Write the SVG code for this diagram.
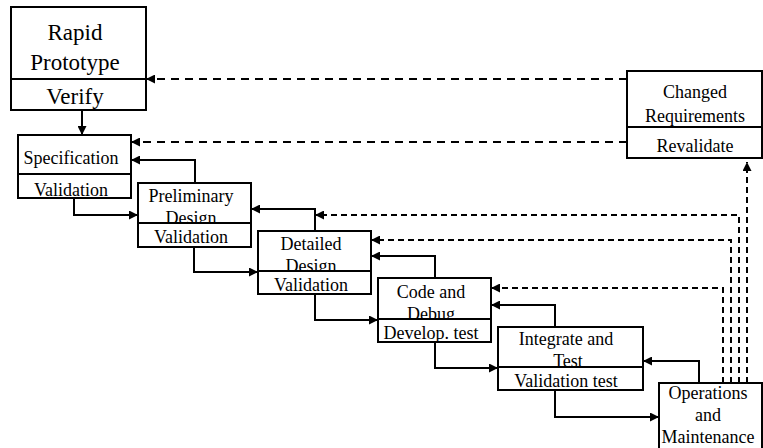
<svg xmlns="http://www.w3.org/2000/svg" width="763" height="448" viewBox="0 0 763 448">
<defs>
<marker id="ah" viewBox="0 0 10 10" refX="10" refY="5" markerWidth="9" markerHeight="9" markerUnits="userSpaceOnUse" orient="auto">
<path d="M0,0 L10,5 L0,10 z" fill="#000"/>
</marker>
</defs>
<style>
.box{fill:#fff;stroke:#000;stroke-width:2}
.t{font-family:'Liberation Serif','Times New Roman',serif;font-size:18px;fill:#000;text-anchor:middle}
.big{font-size:23px}
.c{fill:none;stroke:#000;stroke-width:2;marker-end:url(#ah)}
.dh{stroke-dasharray:8 6}
.dv{stroke-dasharray:6 4}
</style>
<rect width="763" height="448" fill="#fff"/>
<g id="connectors">
<path class="c" d="M82,110 V135"/>
<path class="c" d="M195,183 V160 H131"/>
<path class="c" d="M74,198 V215 H138"/>
<path class="c" d="M315,231 V209 H251"/>
<path class="c" d="M194,247 V272 H258"/>
<path class="c" d="M435,278 V256 H371"/>
<path class="c" d="M315,294 V320 H378"/>
<path class="c" d="M555,327 V305 H491"/>
<path class="c" d="M435,342 V368 H498"/>
<path class="c" d="M699,383 V361 H643"/>
<path class="c" d="M555,390 V417 H659"/>
<path class="c dh" d="M627,79 H146"/>
<path class="c dh" d="M627,142 H131"/>
<path class="c dv" d="M747,383 V162"/>
<path class="c dv" d="M739,383 V215 H315"/>
<path class="c dv" d="M731,383 V240 H371"/>
<path class="c dv" d="M723,383 V288 H491"/>
</g>
<g id="rapid-prototype">
<rect class="box" x="11" y="7" width="135" height="72"/>
<text class="t big" x="75" y="40">Rapid</text>
<text class="t big" x="75" y="70">Prototype</text>
<rect class="box" x="11" y="79" width="135" height="31"/>
<text class="t big" x="75" y="104">Verify</text>
</g>
<g id="specification">
<rect class="box" x="18" y="135" width="113" height="39"/>
<text class="t" x="71" y="164">Specification</text>
<rect class="box" x="18" y="174" width="113" height="24"/>
<text class="t" x="71" y="196">Validation</text>
</g>
<g id="preliminary-design">
<rect class="box" x="138" y="183" width="113" height="40"/>
<text class="t" x="191" y="202">Preliminary</text>
<text class="t" x="191" y="224">Design</text>
<rect class="box" x="138" y="223" width="113" height="24"/>
<text class="t" x="191" y="243">Validation</text>
</g>
<g id="detailed-design">
<rect class="box" x="258" y="231" width="113" height="40"/>
<text class="t" x="311" y="250">Detailed</text>
<text class="t" x="311" y="272">Design</text>
<rect class="box" x="258" y="271" width="113" height="23"/>
<text class="t" x="311" y="291">Validation</text>
</g>
<g id="code-and-debug">
<rect class="box" x="378" y="278" width="113" height="41"/>
<text class="t" x="431" y="298">Code and</text>
<text class="t" x="431" y="320">Debug</text>
<rect class="box" x="378" y="319" width="113" height="23"/>
<text class="t" x="431" y="339">Develop. test</text>
</g>
<g id="integrate-and-test">
<rect class="box" x="498" y="327" width="145" height="40"/>
<text class="t" x="566" y="345">Integrate and</text>
<text class="t" x="568" y="367">Test</text>
<rect class="box" x="498" y="367" width="145" height="23"/>
<text class="t" x="566" y="387">Validation test</text>
</g>
<g id="operations-and-maintenance">
<rect class="box" x="659" y="383" width="103" height="90"/>
<text class="t" x="708" y="399">Operations</text>
<text class="t" x="708" y="421">and</text>
<text class="t" x="708" y="443">Maintenance</text>
</g>
<g id="changed-requirements">
<rect class="box" x="627" y="71" width="135" height="56"/>
<text class="t" x="695" y="98">Changed</text>
<text class="t" x="695" y="122">Requirements</text>
<rect class="box" x="627" y="127" width="135" height="31"/>
<text class="t" x="695" y="152">Revalidate</text>
</g>
</svg>
